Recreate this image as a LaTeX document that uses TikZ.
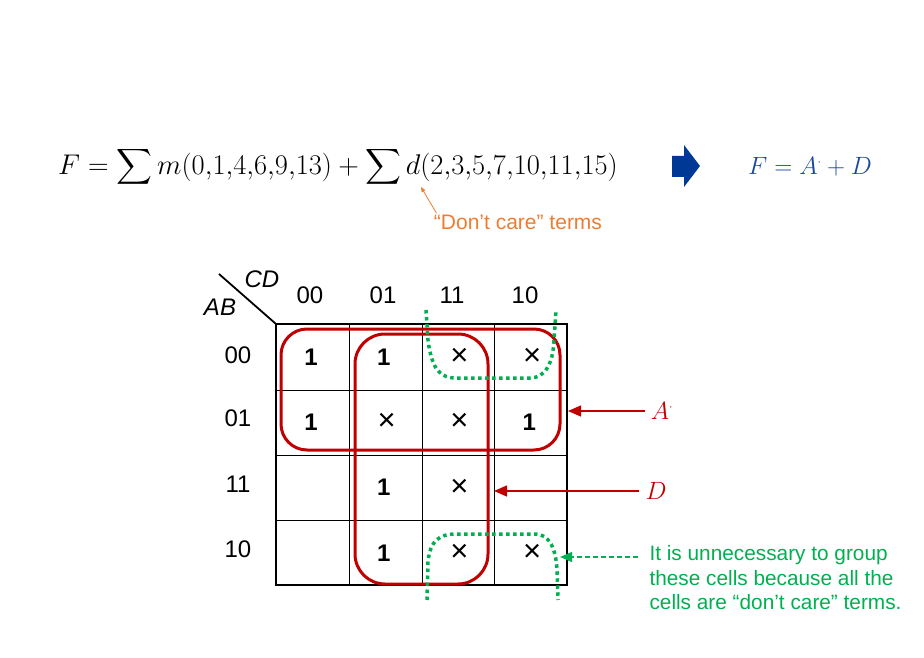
\RequirePackage{fix-cm}
\documentclass[tikz,border=0pt]{standalone}
\usepackage{amsmath}
\usepackage[no-math]{fontspec}
\setmainfont{Liberation Sans}
\usetikzlibrary{arrows.meta}
\definecolor{kred}{RGB}{192,0,0}
\definecolor{kgreen}{RGB}{0,176,80}
\definecolor{korange}{RGB}{237,125,49}
\definecolor{kblue}{RGB}{0,56,150}
\definecolor{kblueText}{RGB}{24,72,160}
\tikzset{
	one/.style={font=\fontsize{24}{28}\selectfont\bfseries},
	dc/.style={font=\fontsize{31}{34}\selectfont},
	group/.style={draw=kred, line width=3pt},
	dcgroup/.style={draw=kgreen, line width=3.5pt, dash pattern=on 3.5pt off 3.5pt},
	redarrow/.style={draw=kred, line width=1.2pt, -{Triangle[length=13pt,width=11pt]}},
	greenarrow/.style={draw=kgreen, line width=1.2pt, dash pattern=on 5pt off 3pt, -{Triangle[length=12pt,width=10pt]}},
}
\begin{document}
\begin{tikzpicture}[x=1pt, y=-1pt, font=\fontsize{24}{28}\selectfont]
	\useasboundingbox (0,0) rectangle (924,658);
	%function
	\node (func) at (338,167) {\fontsize{28.5}{32}\selectfont
		$F=\displaystyle\sum m(0{,}1{,}4{,}6{,}9{,}13)+\sum d(2{,}3{,}5{,}7{,}10{,}11{,}15)$};
	\node[text=korange, font=\fontsize{21}{25}\selectfont] (dcnote) at (518,222) {“Don’t care” terms};
	\coordinate (dtip) at (421,187);
	\draw[korange, line width=0.8pt, -{Triangle[length=5pt,width=4pt]}]
	([xshift=6pt,yshift=-2pt]dcnote.north west) -- (dtip);
	%result
	\fill[kblue] (672,156) -- (684,156) -- (684,145) -- (700,166)
	-- (684,187) -- (684,177) -- (672,177) -- cycle;
	\node[text=kblueText] (result) at (810,167) {\fontsize{25}{30}\selectfont$F=A^{\scriptscriptstyle\cdot}+D$};
	%grid
	\foreach \x in {349,422,494}
	\draw[line width=1pt] (\x,324) -- (\x,585);
	\foreach \y in {390,455,520}
	\draw[line width=1pt] (276,\y) -- (567,\y);
	\draw[line width=2.5pt] (276,324) rectangle (567,585);
	\coordinate (corner) at (276,324);
	\coordinate (slash) at (219,274);
	\draw[line width=1.8pt] (slash) -- (corner);
	%labels
	\node[font=\fontsize{24}{28}\selectfont\itshape] (CD) at (262,279) {CD};
	\node[font=\fontsize{24}{28}\selectfont\itshape] (AB) at (220,307) {AB};
	\foreach \c/\x/\t in {0/310/00,1/383/01,2/452/11,3/525/10}
	\node (col\c) at (\x,295) {\t};
	\foreach \r/\y/\t in {0/355/00,1/418/01,2/484/11,3/549/10}
	\node (row\r) at (238,\y) {\t};
	%cells
	\foreach \r/\c in {0/0,0/1,1/0,1/3,2/1,3/1}
	\node[one] (one\r\c) at ({311+72.75*\c},{357+65.25*\r}) {1};
	\foreach \r/\c in {0/2,0/3,1/1,1/2,2/2,3/2,3/3}
	\node[dc] (dc\r\c) at ({314+72.75*\c},{357+65.25*\r}) {×};
	%groups
	\draw[group, rounded corners=26pt] (281,329) rectangle (560,450);
	\draw[group, rounded corners=30pt] (355,334) rectangle (488,584);
	\draw[dcgroup] (426,310) -- (428,340) .. controls (432,372) and (442,378) .. (456,378)
	-- (530,378) .. controls (545,378) and (553,364) .. (554,340) -- (556,310);
	\draw[dcgroup] (427,600) -- (428,562) .. controls (430,540) and (440,534) .. (456,534)
	-- (535,534) .. controls (550,534) and (556,550) .. (557,570) -- (558,600);
	%arrows
	\node[text=kred, inner sep=6pt] (lblA) at (662,411) {\fontsize{25}{30}\selectfont$A^{\scriptscriptstyle\cdot}$};
	\coordinate (tipA) at (568,411);
	\draw[redarrow] (lblA) -- (tipA);
	\node[text=kred, inner sep=6pt] (lblD) at (656,491) {\fontsize{25}{30}\selectfont$D$};
	\coordinate (tipD) at (494,491);
	\draw[redarrow] (lblD) -- (tipD);
	\node[text=kgreen, font=\fontsize{20.8}{24.5}\selectfont, align=left, anchor=west] (note) at (646,578)
	{It is unnecessary to group\\these cells because all the\\cells are “don’t care” terms.};
	\coordinate (tipG) at (560,557);
	\draw[greenarrow] ([xshift=-8pt]note.west |- tipG) -- (tipG);
\end{tikzpicture}
\end{document}
